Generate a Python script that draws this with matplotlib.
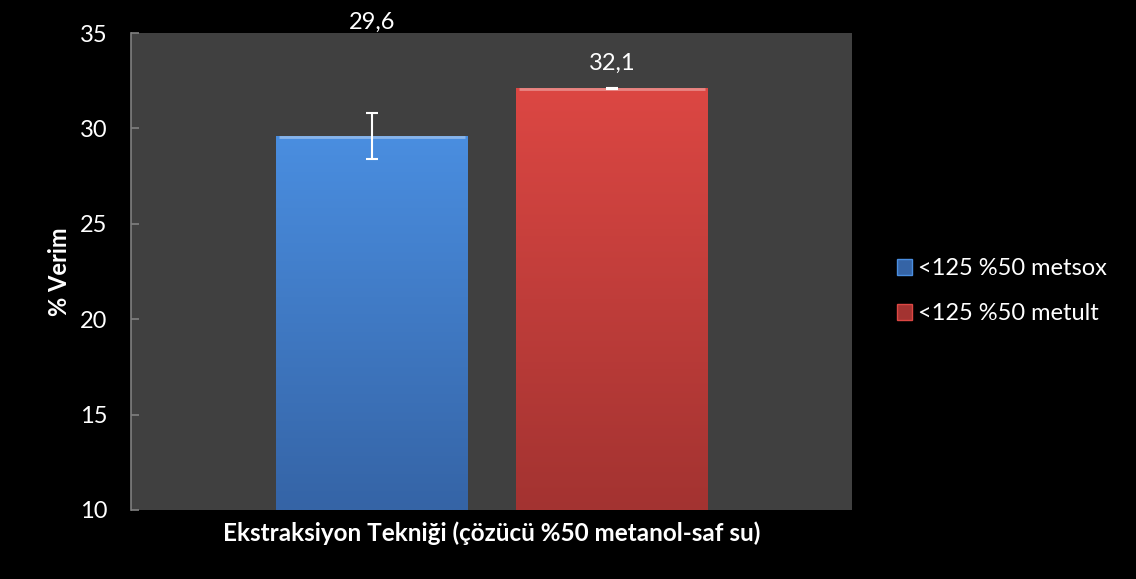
import numpy as np
import matplotlib
matplotlib.use("Agg")
import matplotlib.pyplot as plt
from matplotlib.colors import LinearSegmentedColormap
from matplotlib.patches import Patch

plt.rcParams["font.family"] = ["Lato", "DejaVu Sans"]

series = ["<125 %50 metsox", "<125 %50 metult"]
values = [29.6, 32.1]
errors = [1.2, 0.03]
labels = ["29,6", "32,1"]

# colours (top, bottom) for the bar gradients
grads = [("#4a8ee0", "#3564a6"), ("#dc4743", "#a33331")]
label_lift = [82, 18]  # points above the bar top, as in the original

fig = plt.figure(figsize=(11.36, 5.79), dpi=100, facecolor="black")
ax = fig.add_axes([0.1153, 0.1192, 0.635, 0.8238])
ax.set_facecolor("#404040")

offsets = [-0.166, 0.167]
width = 0.266
bars = ax.bar(offsets, [v - 10 for v in values], width=width, bottom=10,
              color=[g[1] for g in grads], edgecolor="none", zorder=2)

for b, (top, bot) in zip(bars, grads):
    cmap = LinearSegmentedColormap.from_list("g", [bot, top])
    x0, y0 = b.get_x(), b.get_y()
    x1, y1 = x0 + b.get_width(), y0 + b.get_height()
    grad = np.linspace(0, 1, 256).reshape(-1, 1)
    ax.imshow(grad, cmap=cmap, origin="lower", aspect="auto",
              extent=(x0, x1, y0, y1), zorder=3)
    # little bevel highlight on top edge
    ax.plot([x0 + 0.004, x1 - 0.004], [y1 - 0.06, y1 - 0.06], color="white",
            alpha=0.35, lw=2, zorder=4, solid_capstyle="butt")

ax.errorbar(offsets, values, yerr=errors, fmt="none", ecolor="white",
            elinewidth=1.5, capsize=4.5, capthick=1.5, zorder=5)

for x, v, t, lift in zip(offsets, values, labels, label_lift):
    ax.annotate(t, (x, v), xytext=(0, lift), textcoords="offset points",
                ha="center", va="center", color="white", fontsize=17,
                annotation_clip=False)

ax.set_xlim(-0.5, 0.5)
ax.set_ylim(10, 35)
ax.set_yticks([10, 15, 20, 25, 30, 35])
ax.set_xticks([])
ax.tick_params(axis="y", direction="in", colors="#808080", length=6, width=1.2,
               labelcolor="white", labelsize=17, pad=17)
for s in ["top", "right", "bottom"]:
    ax.spines[s].set_visible(False)
ax.spines["left"].set_color("#808080")
ax.spines["left"].set_linewidth(1.2)

ax.set_ylabel("% Verim", color="white", fontsize=17, fontweight="bold", labelpad=6)
ax.set_xlabel("Ekstraksiyon Tekniği (çözücü %50 metanol-saf su)", color="white",
              fontsize=17.5, fontweight="bold", labelpad=8)

handles = [Patch(facecolor=g[1], edgecolor=g[0], lw=1) for g in grads]
leg = fig.legend(handles, series, loc="center left", bbox_to_anchor=(0.771, 0.497),
                 frameon=False, fontsize=17, handlelength=0.65, handleheight=0.65,
                 handletextpad=0.25, labelspacing=1.0)
for t in leg.get_texts():
    t.set_color("white")

fig.savefig("out.png", dpi=100, facecolor="black")
